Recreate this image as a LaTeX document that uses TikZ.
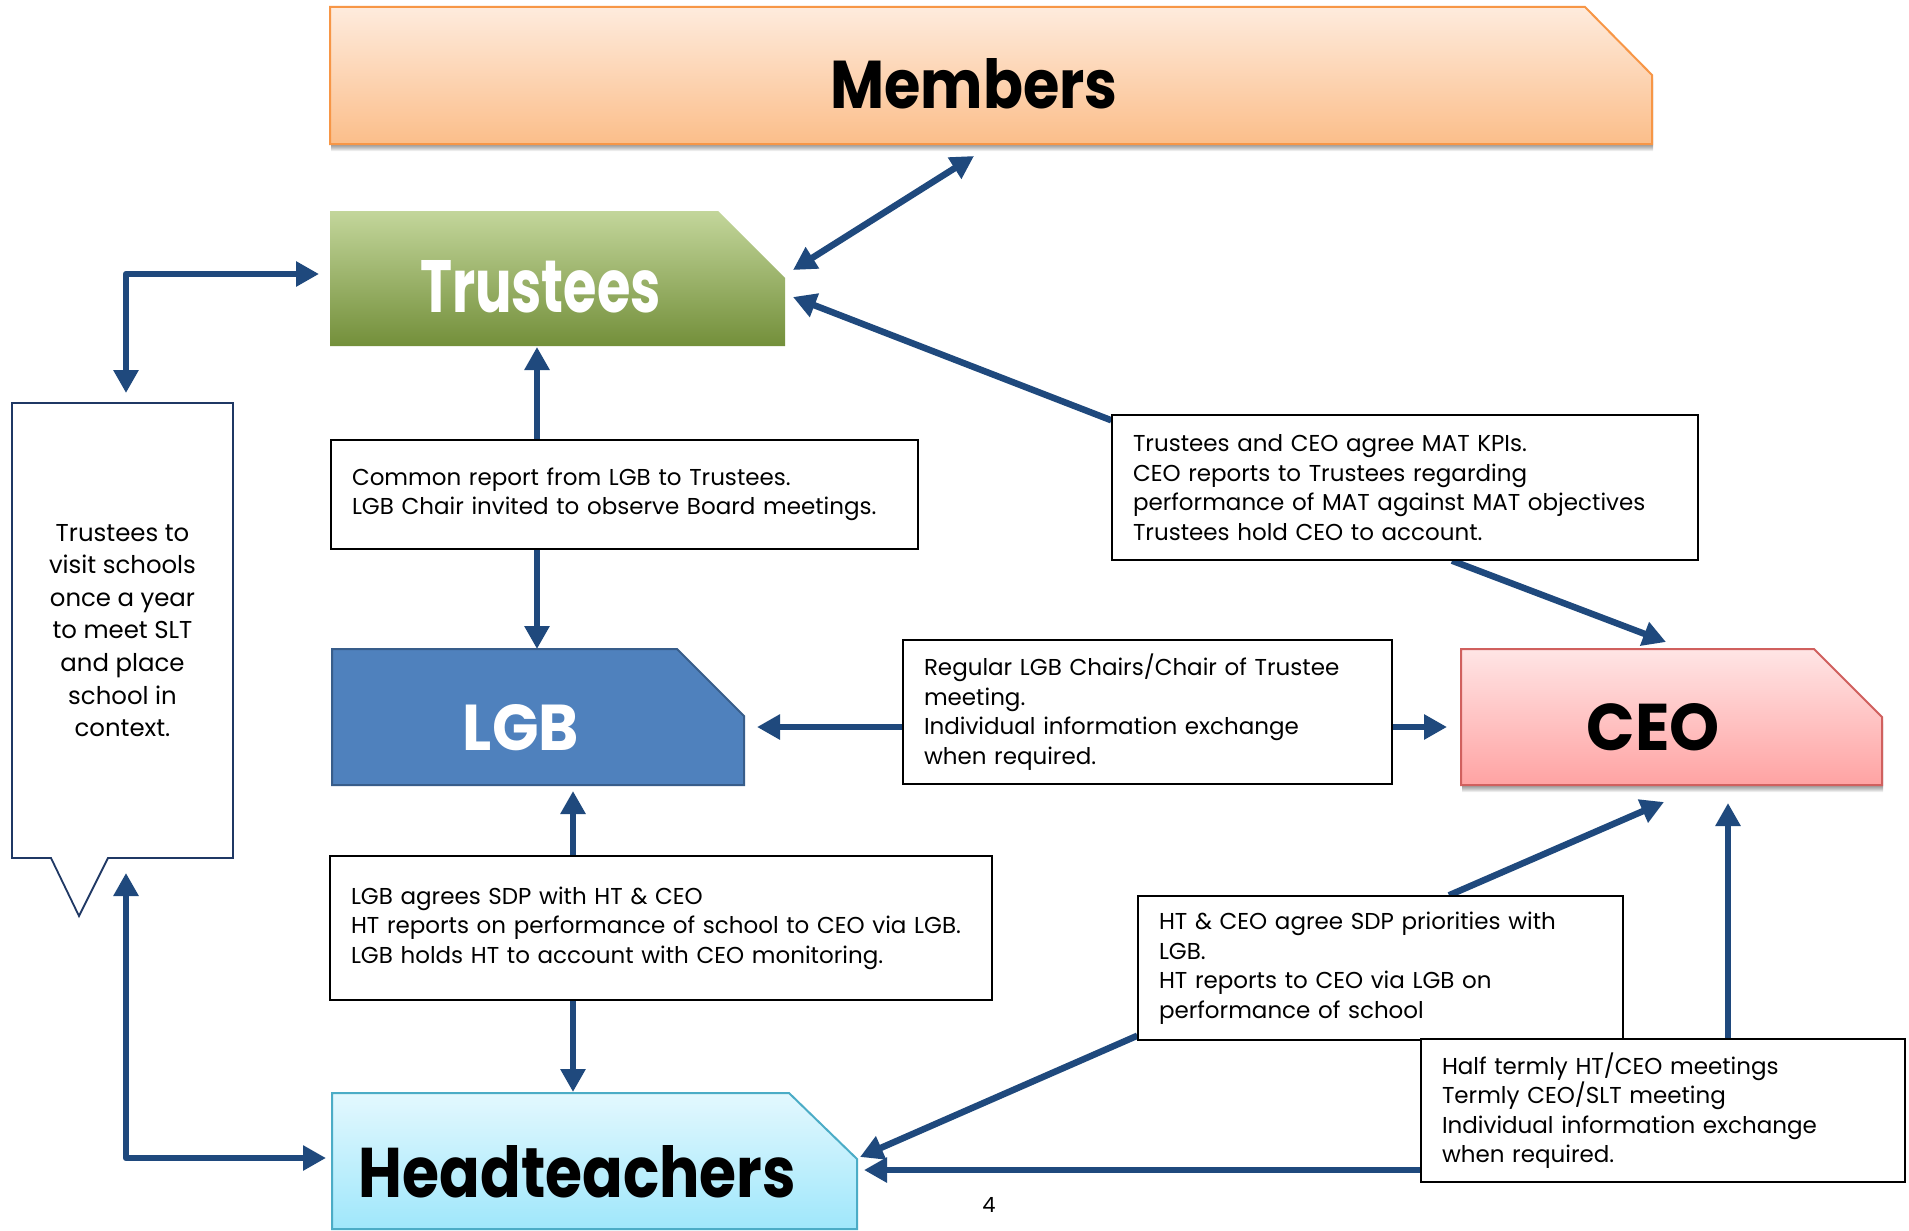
\documentclass[tikz,border=0pt]{standalone}
\usepackage{fontspec}
\setmainfont{Poppins}
\usetikzlibrary{arrows.meta,calc}
\definecolor{arrblue}{HTML}{1F497D}
\definecolor{calloutblue}{HTML}{1F3864}
\definecolor{memtop}{HTML}{FEEBDD}
\definecolor{membot}{HTML}{FBBE8A}
\definecolor{memline}{HTML}{F79646}
\definecolor{trtop}{HTML}{C3D69B}
\definecolor{trmid}{HTML}{9BBB59}
\definecolor{trbot}{HTML}{738F3A}
\definecolor{lgbfill}{HTML}{4F81BD}
\definecolor{lgbline}{HTML}{385D8A}
\definecolor{ceotop}{HTML}{FFE5E5}
\definecolor{ceobot}{HTML}{FFA3A3}
\definecolor{ceoline}{HTML}{D0605E}
\definecolor{httop}{HTML}{E3F8FE}
\definecolor{htbot}{HTML}{9FE7FB}
\definecolor{htline}{HTML}{4BACC6}
\pgfdeclarelayer{bgl}
\pgfdeclarelayer{conn}
\pgfdeclarelayer{shp}
\pgfsetlayers{bgl,conn,shp,main}
\begin{document}
\begin{tikzpicture}[x=1pt,y=-1pt,
  >={Triangle[length=23pt,width=24pt]},
  arr/.style={draw=arrblue,line width=6.5pt,line join=round,->},
  darr/.style={draw=arrblue,line width=6.5pt,line join=round,<->},
  shapebox/.style={rectangle,inner sep=0pt,outer sep=0pt},
  headtext/.style={anchor=base,inner sep=0pt,outer sep=0pt},
  tbox/.style={draw=black,line width=1.4pt,fill=white,align=left,inner xsep=21pt,inner ysep=0pt,
    font=\fontsize{23}{29.5}\selectfont,text=black},
  membersfill/.style={draw=memline,line width=2pt,top color=memtop,bottom color=membot},
  trusteesfill/.style={top color=trtop,middle color=trmid,bottom color=trbot},
  lgbstyle/.style={draw=lgbline,line width=2pt,fill=lgbfill},
  ceostyle/.style={draw=ceoline,line width=2pt,top color=ceotop,bottom color=ceobot},
  htstyle/.style={draw=htline,line width=2pt,top color=httop,bottom color=htbot},
  calloutstyle/.style={draw=calloutblue,line width=1.8pt,fill=white,line join=miter},
  softshadow/.style={fill=black,opacity=0.07}
]
\begin{pgfonlayer}{bgl}
\fill[white] (0,0) rectangle (1909,1231);
\end{pgfonlayer}
\useasboundingbox (0,0) rectangle (1909,1231);

% ---- main shapes ----
\node[shapebox,minimum width=1322pt,minimum height=137pt] (members) at (991,75.5) {};
\node[shapebox,minimum width=455pt,minimum height=135pt] (trustees) at (557.5,278.5) {};
\node[shapebox,minimum width=412pt,minimum height=136pt] (lgb) at (538,717) {};
\node[shapebox,minimum width=421pt,minimum height=136pt] (ceo) at (1671.5,717) {};
\node[shapebox,minimum width=525pt,minimum height=136pt] (ht) at (594.5,1161) {};

\begin{pgfonlayer}{shp}
% soft shadows
\foreach \s in {2,3,4,5,6,7} {
  \fill[softshadow] ([xshift=1pt,yshift=-\s pt]members.north west) -- ([xshift=-66pt,yshift=-\s pt]members.north east)
    -- ([xshift=1pt,yshift=-68pt-\s pt]members.north east) -- ([xshift=1pt,yshift=-\s pt]members.south east)
    -- ([xshift=1pt,yshift=-\s pt]members.south west) -- cycle;
  \fill[softshadow] ([xshift=1pt,yshift=-\s pt]ceo.north west) -- ([xshift=-67pt,yshift=-\s pt]ceo.north east)
    -- ([xshift=1pt,yshift=-68pt-\s pt]ceo.north east) -- ([xshift=1pt,yshift=-\s pt]ceo.south east)
    -- ([xshift=1pt,yshift=-\s pt]ceo.south west) -- cycle;
}
\path[membersfill] (members.north west) -- ([xshift=-67pt]members.north east)
  -- ([yshift=-68pt]members.north east) -- (members.south east) -- (members.south west) -- cycle;
\path[trusteesfill] (trustees.north west) -- ([xshift=-67pt]trustees.north east)
  -- ([yshift=-67pt]trustees.north east) -- (trustees.south east) -- (trustees.south west) -- cycle;
\path[lgbstyle] (lgb.north west) -- ([xshift=-67pt]lgb.north east)
  -- ([yshift=-67pt]lgb.north east) -- (lgb.south east) -- (lgb.south west) -- cycle;
\path[ceostyle] (ceo.north west) -- ([xshift=-68pt]ceo.north east)
  -- ([yshift=-68pt]ceo.north east) -- (ceo.south east) -- (ceo.south west) -- cycle;
\path[htstyle] (ht.north west) -- ([xshift=-68pt]ht.north east)
  -- ([yshift=-66pt]ht.north east) -- (ht.south east) -- (ht.south west) -- cycle;
\end{pgfonlayer}

% ---- headings ----
\node[headtext] (membersT) at (974,108) {\resizebox{287pt}{50pt}{\bfseries Members}};
\node[headtext,text=white] (trusteesT) at (540.5,312) {\resizebox{241pt}{52pt}{\bfseries Trustees}};
\node[headtext,text=white] (lgbT) at (521,750) {\resizebox{116pt}{46pt}{\bfseries LGB}};
\node[headtext] (ceoT) at (1653,750) {\resizebox{133pt}{47pt}{\bfseries CEO}};
\node[headtext] (htT) at (577.5,1197) {\resizebox{437pt}{52pt}{\bfseries Headteachers}};

% ---- callout ----
\node[shapebox,minimum width=221pt,minimum height=455pt,align=center,
  font=\fontsize{24.4}{32.6}\selectfont] (callout) at (122.5,630.5)
  {Trustees to\\visit schools\\once a year\\to meet SLT\\and place\\school in\\context.};
\begin{pgfonlayer}{shp}
\path[calloutstyle] (callout.north west) -- (callout.north east) -- (callout.south east)
  -- ([xshift=96pt]callout.south west) -- ([xshift=67pt,yshift=-58pt]callout.south west)
  -- ([xshift=39pt]callout.south west) -- (callout.south west) -- cycle;
\end{pgfonlayer}

% ---- text boxes ----
\node[tbox,minimum width=587pt,minimum height=109pt,text width=545pt] (box1) at (624.5,494.5)
  {Common report from LGB to Trustees.\\LGB Chair invited to observe Board meetings.};
\node[tbox,minimum width=586pt,minimum height=145pt,text width=544pt] (box2) at (1405,487.5)
  {Trustees and CEO agree MAT KPIs.\\CEO reports to Trustees regarding\\performance of MAT against MAT objectives\\Trustees hold CEO to account.};
\node[tbox,minimum width=489pt,minimum height=144pt,text width=447pt] (box3) at (1147.5,712)
  {Regular LGB Chairs/Chair of Trustee\\meeting.\\Individual information exchange\\when required.};
\node[tbox,minimum width=662pt,minimum height=144pt,text width=620pt] (box4) at (661,928)
  {LGB agrees SDP with HT \& CEO\\HT reports on performance of school to CEO via LGB.\\LGB holds HT to account with CEO monitoring.};
\node[tbox,minimum width=485pt,minimum height=144pt,text width=443pt] (box5) at (1380.5,968)
  {HT \& CEO agree SDP priorities with\\LGB.\\HT reports to CEO via LGB on\\performance of school};
\node[tbox,minimum width=484pt,minimum height=143pt,text width=442pt] (box6) at (1663,1110.5)
  {Half termly HT/CEO meetings\\Termly CEO/SLT meeting\\Individual information exchange\\when required.};

\node[inner sep=0pt,font=\fontsize{21}{25}\selectfont] (pnum) at (989,1205) {4};

% ---- connectors ----
\begin{pgfonlayer}{conn}
\draw[darr] ([xshift=-17pt,yshift=-12pt]members.south) -- ([xshift=8pt,yshift=8.5pt]trustees.east);
\draw[arr] ([yshift=-6pt]box2.north west) -- ([xshift=8pt,yshift=-18.5pt]trustees.east);
\draw[arr] ([xshift=47pt]box2.south) -- ([xshift=-5.5pt,yshift=7pt]ceo.north);
\draw[arr] ([xshift=-87.5pt]box1.north) -- ([xshift=-20.5pt,yshift=-1pt]trustees.south);
\draw[arr] ([xshift=-87.5pt]box1.south) -- ([xshift=-1pt]lgb.north);
\draw[arr] ([yshift=-15pt]box3.west) -- ([xshift=13pt,yshift=-10pt]lgb.east);
\draw[arr] ([yshift=-15pt]box3.east) -- ([xshift=-14pt,yshift=-10pt]ceo.west);
\draw[arr] ([xshift=-88pt]box4.north) -- ([xshift=35pt,yshift=-6pt]lgb.south);
\draw[arr] ([xshift=-88pt]box4.south) -- ([xshift=-21.5pt,yshift=1pt]ht.north);
\draw[arr] ([xshift=68.5pt]box5.north) -- ([xshift=-7.5pt,yshift=-17pt]ceo.south);
\draw[arr] ([yshift=5pt]box5.south west) -- ([xshift=3pt,yshift=4pt]ht.east);
\draw[arr] ([xshift=65pt]box6.north) -- ([xshift=56.5pt,yshift=-18pt]ceo.south);
\draw[arr] ([yshift=-59.5pt]box6.west) -- ([xshift=7pt,yshift=-9pt]ht.east);
\draw[darr] ([xshift=3.5pt,yshift=10pt]callout.north) |- ([xshift=-11pt,yshift=4.5pt]trustees.west);
\draw[darr] ([xshift=3.5pt,yshift=-15pt]callout.south) |- ([xshift=-6pt,yshift=3pt]ht.west);
\end{pgfonlayer}
\end{tikzpicture}
\end{document}
